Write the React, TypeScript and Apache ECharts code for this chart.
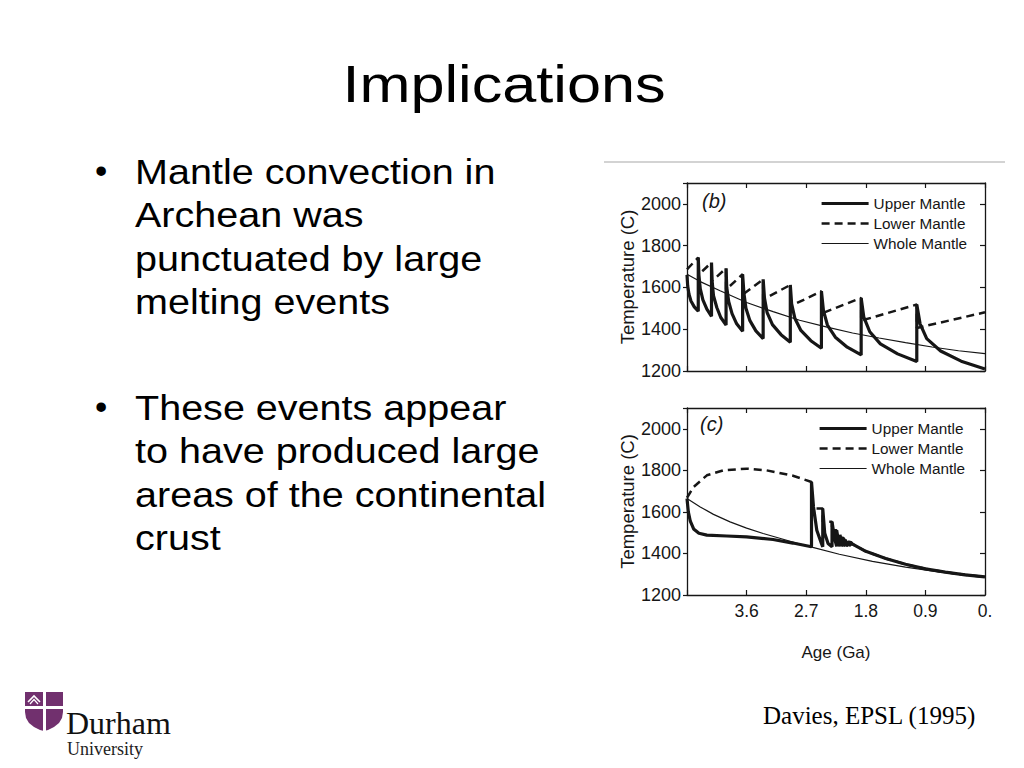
import React, { useEffect, useRef } from 'react';
import * as echarts from 'echarts';

// ---------- data ----------
const seriesNames = ['Upper Mantle', 'Lower Mantle', 'Whole Mantle'];

// Panel (b): [age Ga, temperature C]
const upperMantleB: [number, number][] = [
  [4.5, 1660], [4.49, 1608], [4.47, 1568], [4.44, 1535], [4.39, 1507], [4.33, 1486],
  [4.33, 1743], [4.32, 1659], [4.3, 1594], [4.26, 1541], [4.2, 1496], [4.13, 1462],
  [4.13, 1719], [4.12, 1629], [4.1, 1561], [4.05, 1504], [3.99, 1456], [3.91, 1420],
  [3.91, 1692], [3.9, 1601], [3.87, 1532], [3.82, 1475], [3.75, 1426], [3.66, 1390],
  [3.66, 1663], [3.64, 1571], [3.61, 1500], [3.55, 1441], [3.46, 1392], [3.35, 1355],
  [3.35, 1639], [3.33, 1549], [3.29, 1479], [3.21, 1422], [3.08, 1374], [2.94, 1338],
  [2.94, 1612], [2.92, 1521], [2.87, 1451], [2.78, 1394], [2.63, 1345], [2.47, 1309],
  [2.47, 1582], [2.44, 1490], [2.38, 1420], [2.26, 1362], [2.08, 1314], [1.87, 1277],
  [1.87, 1550], [1.83, 1458], [1.74, 1388], [1.58, 1330], [1.32, 1282], [1.03, 1245],
  [1.03, 1518], [0.98, 1426], [0.88, 1355], [0.67, 1296], [0.36, 1247], [0, 1210],
];
const lowerMantleB: [number, number][] = [
  [4.5, 1687], [4.33, 1743], [4.33, 1660], [4.13, 1719], [4.13, 1628], [3.91, 1692],
  [3.91, 1590], [3.66, 1663], [3.66, 1566], [3.35, 1639], [3.35, 1542], [2.94, 1612],
  [2.94, 1510], [2.47, 1582], [2.47, 1475], [1.87, 1550], [1.87, 1441], [1.03, 1518],
  [1.03, 1406], [0, 1481],
];
const wholeMantleB: [number, number][] = [
  [4.5, 1663], [4.3, 1628], [4.0, 1584], [3.6, 1528], [3.2, 1484], [2.8, 1443],
  [2.4, 1411], [2.0, 1382], [1.6, 1358], [1.2, 1336], [0.8, 1315], [0.4, 1297], [0, 1283],
];

// Panel (c)
const upperMantleC: [number, number][] = [
  [4.5, 1664], [4.48, 1600], [4.45, 1555], [4.4, 1518], [4.32, 1497], [4.2, 1488],
  [3.9, 1484], [3.6, 1480], [3.2, 1467], [2.9, 1450], [2.62, 1432],
  [2.62, 1744], [2.59, 1624], [2.54, 1512], [2.47, 1448], [2.45, 1432],
  [2.45, 1616], [2.42, 1497], [2.37, 1448], [2.31, 1432],
  [2.31, 1552], [2.27, 1470], [2.24, 1434],
  [2.24, 1512], [2.21, 1455], [2.19, 1434],
  [2.19, 1490], [2.16, 1445], [2.14, 1436],
  [2.14, 1475], [2.12, 1440], [2.11, 1436],
  [2.11, 1466], [2.09, 1440], [2.07, 1438],
  [2.07, 1460], [2.05, 1441], [2.03, 1440],
  [2.03, 1455], [2.0, 1445], [1.8, 1410], [1.5, 1376], [1.2, 1348], [0.9, 1326],
  [0.6, 1310], [0.3, 1297], [0, 1287],
];
const lowerMantleC: [number, number][] = [
  [4.5, 1668], [4.4, 1720], [4.2, 1776], [3.95, 1800], [3.6, 1808], [3.3, 1800],
  [2.9, 1774], [2.62, 1744], [2.62, 1616], [2.45, 1616], [2.45, 1552], [2.31, 1552],
  [2.31, 1512], [2.24, 1512], [2.24, 1490], [2.19, 1490], [2.19, 1475], [2.14, 1475],
  [2.14, 1466], [2.11, 1466], [2.11, 1460], [2.07, 1460], [2.07, 1455], [2.03, 1455],
  [2.0, 1445], [1.8, 1410], [1.5, 1376], [1.2, 1348], [0.9, 1326], [0.6, 1310],
  [0.3, 1297], [0, 1287],
];
const wholeMantleC: [number, number][] = [
  [4.5, 1664], [4.3, 1624], [4.1, 1588], [3.85, 1552], [3.6, 1522], [3.35, 1496],
  [3.1, 1473], [2.85, 1450], [2.6, 1429], [2.2, 1396], [1.7, 1362], [1.2, 1334],
  [0.7, 1311], [0.3, 1296], [0, 1287],
];

// Slide texts
const slideTitle = 'Implications';
const bulletOne = ['Mantle convection in', 'Archean was', 'punctuated by large', 'melting events'];
const bulletTwo = ['These events appear', 'to have produced large', 'areas of the continental', 'crust'];
const citation = 'Davies, EPSL (1995)';
const panelLabels = ['(b)', '(c)'];
const yAxisName = 'Temperature (C)';
const xAxisName = 'Age (Ga)';
const logoLines = ['Durham', 'University'];

export default function App() {
  const ref = useRef<HTMLDivElement>(null);

  useEffect(() => {
    if (!ref.current) return;
    const chart = echarts.init(ref.current, null, { renderer: 'svg' });
    const ink = '#161616';
    const sans = "'Liberation Sans', Arial, Helvetica, sans-serif";
    const serif = "'Liberation Serif', 'Times New Roman', serif";
    const purple = '#71306e';

    const lineStyles: any[] = [
      { color: ink, width: 3.2, type: 'solid' },
      { color: ink, width: 2.5, type: [8, 5] },
      { color: ink, width: 1.2, type: 'solid' },
    ];

    const xAxis = (gridIndex: number, position: string, labels: boolean, name?: string) => ({
      type: 'value',
      gridIndex,
      position,
      min: 0,
      max: 4.5,
      interval: 0.9,
      inverse: true,
      name: name || '',
      nameLocation: 'middle',
      nameGap: 49,
      nameTextStyle: { fontFamily: sans, fontSize: 17, color: ink },
      axisLine: { show: true, onZero: false, lineStyle: { color: ink, width: 1.3 } },
      axisTick: { show: true, inside: true, length: 5, lineStyle: { color: ink, width: 1.2 } },
      axisLabel: {
        show: labels,
        margin: 7,
        fontFamily: sans,
        fontSize: 17.5,
        color: ink,
        formatter: (v: number) =>
          Math.abs(v - 4.5) < 1e-6 ? '' : Math.abs(v) < 1e-6 ? '0.' : v.toFixed(1),
      },
      splitLine: { show: false },
    });

    const yAxis = (gridIndex: number, position: string, labels: boolean) => ({
      type: 'value',
      gridIndex,
      position,
      min: 1200,
      max: 2100,
      interval: 200,
      name: labels ? yAxisName : '',
      nameLocation: 'middle',
      nameRotate: 90,
      nameGap: 46,
      nameTextStyle: { fontFamily: sans, fontSize: 18.5, color: ink },
      axisLine: { show: true, onZero: false, lineStyle: { color: ink, width: 1.3 } },
      axisTick: { show: true, inside: !labels, length: labels ? 4 : 5, lineStyle: { color: ink, width: 1.2 } },
      axisLabel: {
        show: labels,
        margin: 6,
        fontFamily: sans,
        fontSize: 18,
        color: ink,
        formatter: (v: number) => (v > 2050 ? '' : String(v)),
      },
      splitLine: { show: false },
    });

    const mkSeries = (name: string, data: [number, number][], idx: number, axis: number, z: number) => ({
      type: 'line',
      name,
      data,
      xAxisIndex: axis,
      yAxisIndex: axis,
      symbol: 'none',
      showSymbol: false,
      smooth: false,
      lineStyle: lineStyles[idx],
      itemStyle: { color: ink },
      z,
      silent: true,
    });

    const legendData = seriesNames.map((n, i) => ({
      name: n,
      itemStyle: { opacity: 0 },
      lineStyle: lineStyles[i],
    }));

    const legend = (left: number, top: number) => ({
      left,
      top,
      padding: 0,
      orient: 'vertical',
      itemWidth: 47,
      itemHeight: 14,
      itemGap: 5,
      selectedMode: false,
      textStyle: { fontFamily: sans, fontSize: 15.3, color: ink },
      data: legendData,
    });

    const textEl = (text: string, x: number, y: number, style: any, extra: any = {}) => ({
      type: 'text',
      x,
      y,
      ...extra,
      style: { text, fill: '#000', verticalAlign: 'middle', ...style },
    });

    const bulletEls: any[] = [];
    const addBullet = (lines: string[], y0: number) => {
      bulletEls.push(textEl('\u2022', 95, y0 - 2, { fontFamily: sans, fontSize: 35, align: 'left' }));
      lines.forEach((l, i) => {
        bulletEls.push(
          textEl(l, 135, y0 + i * 43.3, { fontFamily: sans, fontSize: 35, align: 'left' }, { scaleX: 1.13 })
        );
      });
    };
    addBullet(bulletOne, 172);
    addBullet(bulletTwo, 408);

    // Durham shield outline
    const shield = [
      [25, 692], [63, 692], [63, 712], [62, 718], [59, 723], [54, 727], [48, 730], [44, 731],
      [40, 730], [34, 727], [29, 723], [26, 718], [25, 712],
    ];

    const option: any = {
      animation: false,
      backgroundColor: '#ffffff',
      grid: [
        { left: 687, top: 183, width: 298, height: 188, containLabel: false },
        { left: 687, top: 408, width: 298, height: 187, containLabel: false },
      ],
      xAxis: [
        xAxis(0, 'bottom', false),
        xAxis(0, 'top', false),
        xAxis(1, 'bottom', true, xAxisName),
        xAxis(1, 'top', false),
      ],
      yAxis: [yAxis(0, 'left', true), yAxis(0, 'right', false), yAxis(1, 'left', true), yAxis(1, 'right', false)],
      legend: [legend(820, 196), legend(818, 421)],
      series: [
        mkSeries(seriesNames[2], wholeMantleB, 2, 0, 2),
        mkSeries(seriesNames[1], lowerMantleB, 1, 0, 3),
        mkSeries(seriesNames[0], upperMantleB, 0, 0, 4),
        mkSeries(seriesNames[2], wholeMantleC, 2, 2, 2),
        mkSeries(seriesNames[1], lowerMantleC, 1, 2, 3),
        mkSeries(seriesNames[0], upperMantleC, 0, 2, 4),
      ],
      graphic: [
        textEl(slideTitle, 504, 84, { fontFamily: sans, fontSize: 51, align: 'center' }, { scaleX: 1.2 }),
        ...bulletEls,
        { type: 'line', shape: { x1: 604, y1: 162, x2: 1005, y2: 162 }, style: { stroke: '#c4c4c4', lineWidth: 1.5 } },
        textEl(panelLabels[0], 702, 201, { fontFamily: sans, fontSize: 20, fontStyle: 'italic', fill: ink, align: 'left' }),
        textEl(panelLabels[1], 700, 424, { fontFamily: sans, fontSize: 20, fontStyle: 'italic', fill: ink, align: 'left' }),
        textEl(citation, 763, 715, { fontFamily: serif, fontSize: 25, align: 'left' }),
        // Durham University logo
        { type: 'polygon', shape: { points: shield }, style: { fill: purple } },
        { type: 'rect', shape: { x: 43, y: 692, width: 3, height: 39 }, style: { fill: '#fff' } },
        { type: 'rect', shape: { x: 25, y: 706, width: 38, height: 3 }, style: { fill: '#fff' } },
        { type: 'polyline', shape: { points: [[28, 702], [34, 696], [40, 702]] }, style: { stroke: '#fff', lineWidth: 1.6, fill: null } },
        { type: 'polyline', shape: { points: [[30, 704], [34, 699.5], [38, 704]] }, style: { stroke: '#fff', lineWidth: 1.2, fill: null } },
        textEl(logoLines[0], 66, 723, { fontFamily: serif, fontSize: 32, align: 'left', fill: '#111' }),
        textEl(logoLines[1], 67, 749, { fontFamily: serif, fontSize: 18, align: 'left', fill: '#222' }),
      ],
    };

    chart.setOption(option);
    return () => {
      chart.dispose();
    };
  }, []);

  return (
    <div
      ref={ref}
      style={{ position: 'fixed', left: 0, top: 0, width: 1024, height: 768, background: '#fff' }}
    />
  );
}
